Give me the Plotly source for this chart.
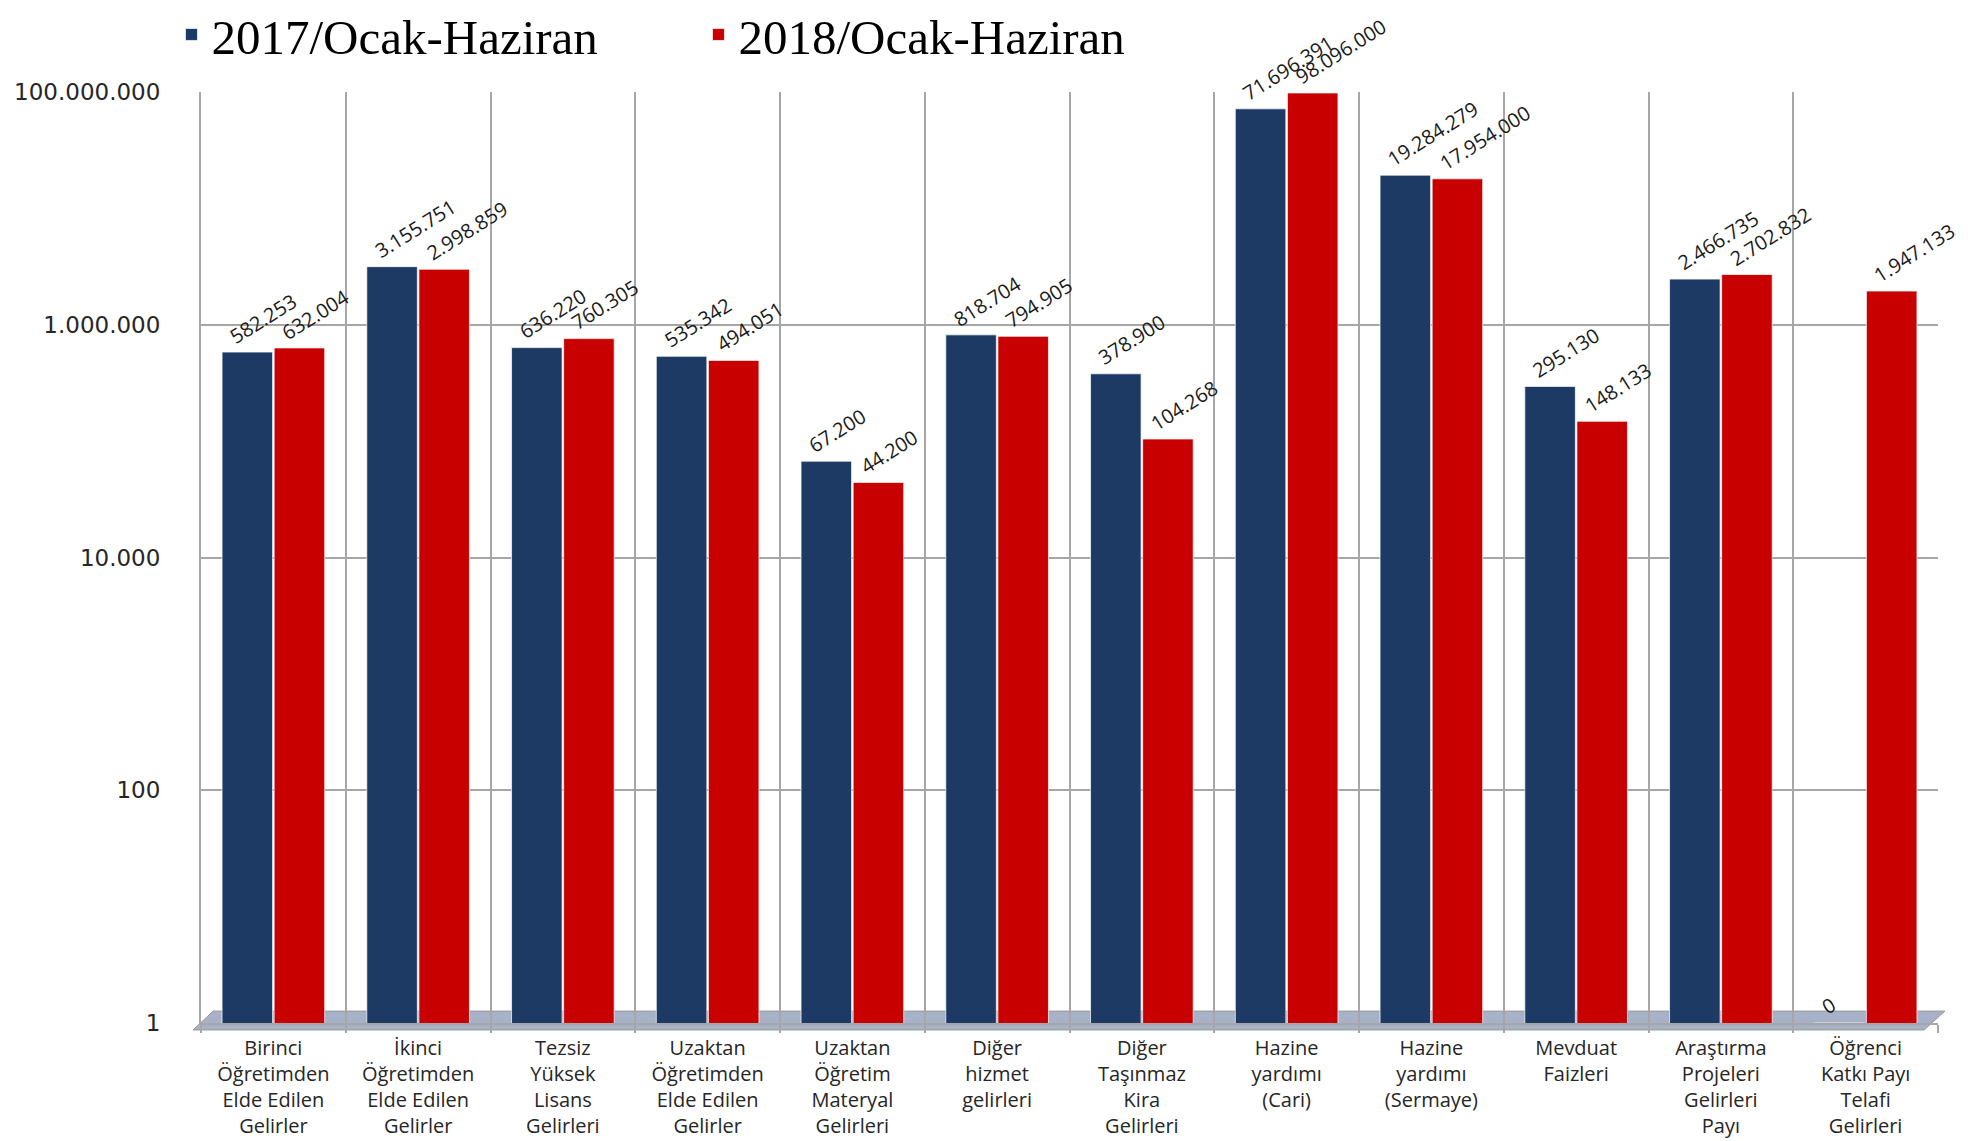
import math
import plotly.graph_objects as go

categories = [
    "Birinci<br>Öğretimden<br>Elde Edilen<br>Gelirler",
    "İkinci<br>Öğretimden<br>Elde Edilen<br>Gelirler",
    "Tezsiz<br>Yüksek<br>Lisans<br>Gelirleri",
    "Uzaktan<br>Öğretimden<br>Elde Edilen<br>Gelirler",
    "Uzaktan<br>Öğretim<br>Materyal<br>Gelirleri",
    "Diğer<br>hizmet<br>gelirleri<br> ",
    "Diğer<br>Taşınmaz<br>Kira<br>Gelirleri",
    "Hazine<br>yardımı<br>(Cari)<br> ",
    "Hazine<br>yardımı<br>(Sermaye)<br> ",
    "Mevduat<br>Faizleri<br> <br> ",
    "Araştırma<br>Projeleri<br>Gelirleri<br>Payı",
    "Öğrenci<br>Katkı Payı<br>Telafi<br>Gelirleri",
]

values_2017 = [582253, 3155751, 636220, 535342, 67200, 818704, 378900,
               71696391, 19284279, 295130, 2466735, 0]
values_2018 = [632004, 2998859, 760305, 494051, 44200, 794905, 104268,
               98096000, 17954000, 148133, 2702832, 1947133]

series_names = ["2017/Ocak-Haziran", "2018/Ocak-Haziran"]

y_tick_vals = [1, 100, 10000, 1000000, 100000000]
y_tick_text = ["1", "100", "10.000", "1.000.000", "100.000.000"]


def fmt(v):
    return f"{v:,}".replace(",", ".")


def log_safe(vals):
    # a zero value sits on the floor of the log axis (value 1 = axis bottom)
    return [v if v > 0 else 1 for v in vals]


colors = ["#1C3A64", "#C80000"]
BARGAP = 0.28
BARGROUPGAP = 0.03

fig = go.Figure()
for name, vals, col in zip(series_names, [values_2017, values_2018], colors):
    fig.add_trace(go.Bar(
        name=name,
        x=categories,
        y=log_safe(vals),
        marker=dict(color=col, line=dict(color="rgba(255,255,255,0.7)", width=1)),
        hovertext=[fmt(v) for v in vals],
        hoverinfo="text+name",
    ))

# value labels: rotated, starting at the left edge of each bar's top
slot = (1 - BARGAP) / 2
half_bar = slot * (1 - BARGROUPGAP) / 2
for s, vals in enumerate([values_2017, values_2018]):
    center_off = (s - 0.5) * slot
    for i, v in enumerate(vals):
        fig.add_annotation(
            x=i + center_off - half_bar, y=math.log10(max(v, 1)),
            xref="x", yref="y",
            text=fmt(v), showarrow=False, textangle=-32,
            xanchor="left", yanchor="bottom", yshift=0,
            font=dict(family="Open Sans", size=20, color="#1a1a1a"),
        )

# floor of the chart (decorative parallelogram)
fig.add_shape(
    type="path",
    xref="paper", yref="paper",
    path="M 0.007 0.0128 L 1.004 0.0128 L 0.992 -0.0075 L -0.0046 -0.0075 Z",
    fillcolor="#A7B2C8", line=dict(color="#9A9A9A", width=1), layer="below",
)

fig.update_layout(
    width=1973, height=1141,
    margin=dict(l=193, r=43, t=84, b=126, autoexpand=False),
    paper_bgcolor="white", plot_bgcolor="white",
    barmode="group", bargap=BARGAP, bargroupgap=BARGROUPGAP,
    showlegend=True,
    legend=dict(
        orientation="h", x=-0.017, xanchor="left", y=1.103, yanchor="top",
        font=dict(family="Liberation Serif", size=49, color="#000000"),
        entrywidth=482, entrywidthmode="pixels",
        bgcolor="rgba(0,0,0,0)",
    ),
    xaxis=dict(
        type="category",
        tickson="boundaries",
        showgrid=True, gridcolor="#A6A6A6", gridwidth=2,
        showline=True, linecolor="#A6A6A6", linewidth=2,
        ticks="outside", ticklen=8, tickcolor="#A6A6A6", tickwidth=2,
        ticklabelstandoff=6,
        tickfont=dict(family="Open Sans", size=20, color="#262626"),
        tickangle=0,
        range=[-0.5, len(categories) - 0.5],
    ),
    yaxis=dict(
        type="log",
        range=[0, 8],
        tickvals=y_tick_vals, ticktext=y_tick_text,
        showgrid=True, gridcolor="#A6A6A6", gridwidth=2,
        showline=True, linecolor="#A6A6A6", linewidth=2,
        ticks="", ticklabelstandoff=34,
        tickfont=dict(family="DejaVu Sans", size=23, color="#262626"),
        zeroline=False,
    ),
)

fig.write_html("out.html")
